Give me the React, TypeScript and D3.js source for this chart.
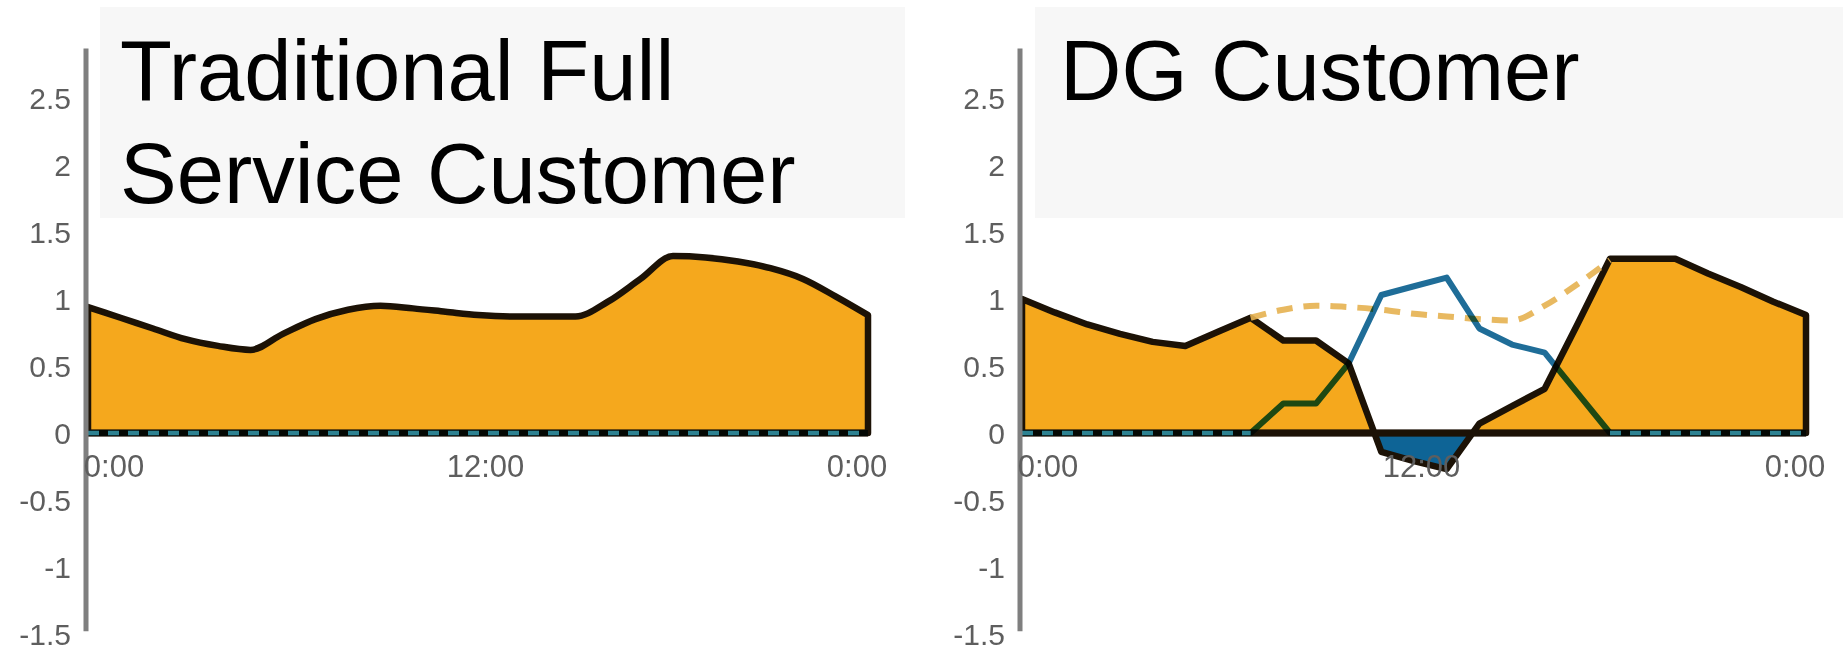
import React from "react";
import * as d3 from "d3";

const W = 1843;
const H = 654;

// hour of day, 0:00 .. next 0:00
const hours = [0, 1, 2, 3, 4, 5, 6, 7, 8, 9, 10, 11, 12, 13, 14, 15, 16, 17, 18, 19, 20, 21, 22, 23, 24];

// Traditional full service customer
const tradLoad = [0.94, 0.86, 0.78, 0.7, 0.65, 0.62, 0.74, 0.85, 0.92, 0.95, 0.93, 0.905, 0.88, 0.87, 0.87, 0.87, 0.98, 1.15, 1.32, 1.31, 1.28, 1.23, 1.15, 1.02, 0.88];
const tradSolar = [0, 0, 0, 0, 0, 0, 0, 0, 0, 0, 0, 0, 0, 0, 0, 0, 0, 0, 0, 0, 0, 0, 0, 0, 0];

// DG customer
const dgNet = [1.0, 0.9, 0.81, 0.74, 0.68, 0.65, 0.755, 0.86, 0.69, 0.69, 0.52, -0.14, -0.21, -0.27, 0.07, 0.2, 0.33, 0.81, 1.3, 1.3, 1.3, 1.19, 1.09, 0.98, 0.88];
const dgSolar = [0, 0, 0, 0, 0, 0, 0, 0, 0.22, 0.22, 0.52, 1.03, 1.095, 1.16, 0.78, 0.66, 0.6, 0.3, 0, 0, 0, 0, 0, 0, 0];
const dgLoadHours = [7, 8, 9, 10, 11, 12, 13, 14, 15, 16, 17, 18];
const dgLoad = [0.86, 0.92, 0.95, 0.94, 0.92, 0.89, 0.87, 0.85, 0.84, 0.95, 1.11, 1.29];

const yTicks = [-1.5, -1, -0.5, 0, 0.5, 1, 1.5, 2, 2.5];
const yTickLabels = ["-1.5", "-1", "-0.5", "0", "0.5", "1", "1.5", "2", "2.5"];
const xTicks = [0, 12, 24];
const xTickLabels = ["0:00", "12:00", "0:00"];

const tradTitle = ["Traditional Full", "Service Customer"];
const dgTitle = ["DG Customer"];

const ORANGE = "#f5a81d";
const NEG_BLUE = "#0e6496";
const NET_STROKE = "#1c1206";
const SOLAR = "#1f6d98";
const SOLAR_ZERO = "#2d8292";
const LOAD_DASH = "#e6b150";
const AXIS = "#7f7f7f";
const TICK = "#5e5e5e";

function zeroRuns(hrs: number[], vals: number[]) {
  const runs: [number, number][] = [];
  let start: number | null = null;
  for (let i = 0; i < vals.length; i++) {
    if (vals[i] === 0) {
      if (start === null) start = i;
    } else {
      if (start !== null && i - 1 > start) runs.push([hrs[start], hrs[i - 1]]);
      start = null;
    }
  }
  if (start !== null && vals.length - 1 > start) runs.push([hrs[start], hrs[vals.length - 1]]);
  return runs;
}

export default function App() {
  const y = d3.scaleLinear().domain([-1.5, 2.5]).range([634, 98]);
  const y0 = y(0);

  const panels = [
    {
      key: "trad",
      x0: 88,
      x1: 868,
      boxX: 100,
      boxW: 805,
      titleX: 120,
      title: tradTitle,
      net: tradLoad,
      solar: tradSolar,
      smooth: true,
      load: null as null | { h: number[]; v: number[] },
    },
    {
      key: "dg",
      x0: 1022,
      x1: 1806,
      boxX: 1035,
      boxW: 808,
      titleX: 1060,
      title: dgTitle,
      net: dgNet,
      solar: dgSolar,
      smooth: false,
      load: { h: dgLoadHours, v: dgLoad },
    },
  ];

  return (
    <svg
      width={W}
      height={H}
      style={{ position: "absolute", left: 0, top: 0, background: "#fff" }}
      fontFamily="'Liberation Sans', Arial, sans-serif"
    >
      <defs>
        <clipPath id="above">
          <rect x={0} y={0} width={W} height={y0} />
        </clipPath>
        <clipPath id="below">
          <rect x={0} y={y0} width={W} height={H - y0} />
        </clipPath>
      </defs>
      <rect x={0} y={0} width={W} height={H} fill="#ffffff" />

      {panels.map((p) => {
        const x = d3.scaleLinear().domain([0, 24]).range([p.x0, p.x1]);
        // tick labels sit slightly inside the plotted range
        const xl = d3.scaleLinear().domain([0, 24]).range([p.x0 + 26, p.x1 - 11]);
        const curve = p.smooth ? d3.curveMonotoneX : d3.curveLinear;

        const area = d3
          .area<number>()
          .x((_, i) => x(hours[i]))
          .y0(y0)
          .y1((d) => y(d))
          .curve(curve);
        const areaPath = area(p.net) || "";

        const solarLine = d3
          .line<number>()
          .x((_, i) => x(hours[i]))
          .y((d) => y(d));

        const loadLine = d3
          .line<number>()
          .x((_, i) => x(p.load ? p.load.h[i] : 0))
          .y((d) => y(d))
          .curve(d3.curveMonotoneX);

        const runs = zeroRuns(hours, p.solar);
        const axisX = p.x0 - 2;

        return (
          <g key={p.key}>
            <rect x={p.boxX} y={7} width={p.boxW} height={211} fill="#f7f7f7" />

            <path d={areaPath} fill={ORANGE} clipPath="url(#above)" />
            <path d={areaPath} fill={NEG_BLUE} clipPath="url(#below)" />
            <path
              d={areaPath + "Z"}
              fill="none"
              stroke={NET_STROKE}
              strokeWidth={6.5}
              strokeLinejoin="round"
            />
            <line x1={x(0)} x2={x(24)} y1={y0} y2={y0} stroke={NET_STROKE} strokeWidth={7} />

            {p.load && (
              <path
                d={loadLine(p.load.v) || ""}
                fill="none"
                stroke={LOAD_DASH}
                strokeWidth={6}
                strokeDasharray="16 11"
                opacity={0.9}
              />
            )}

            <path
              d={solarLine(p.solar) || ""}
              fill="none"
              stroke={SOLAR}
              strokeWidth={6}
              strokeLinejoin="round"
              style={{ mixBlendMode: "multiply" }}
            />
            {runs.map(([a, b], i) => (
              <line
                key={i}
                x1={x(a)}
                x2={x(b)}
                y1={y0}
                y2={y0}
                stroke={SOLAR_ZERO}
                strokeWidth={4.5}
                strokeDasharray="11 9"
              />
            ))}

            <line
              x1={axisX}
              x2={axisX}
              y1={y(2.87)}
              y2={y(-1.48)}
              stroke={AXIS}
              strokeWidth={5}
            />

            {yTicks.map((t, i) => (
              <text
                key={t}
                x={axisX - 15}
                y={y(t)}
                dy="0.36em"
                textAnchor="end"
                fontSize={30}
                fill={TICK}
              >
                {yTickLabels[i]}
              </text>
            ))}

            {xTicks.map((t, i) => (
              <text
                key={i}
                x={xl(t)}
                y={477}
                textAnchor="middle"
                fontSize={31}
                fill={TICK}
              >
                {xTickLabels[i]}
              </text>
            ))}

            {p.title.map((line, i) => (
              <text key={i} x={p.titleX} y={100 + i * 103} fontSize={85} fill="#000">
                {line}
              </text>
            ))}
          </g>
        );
      })}
    </svg>
  );
}
